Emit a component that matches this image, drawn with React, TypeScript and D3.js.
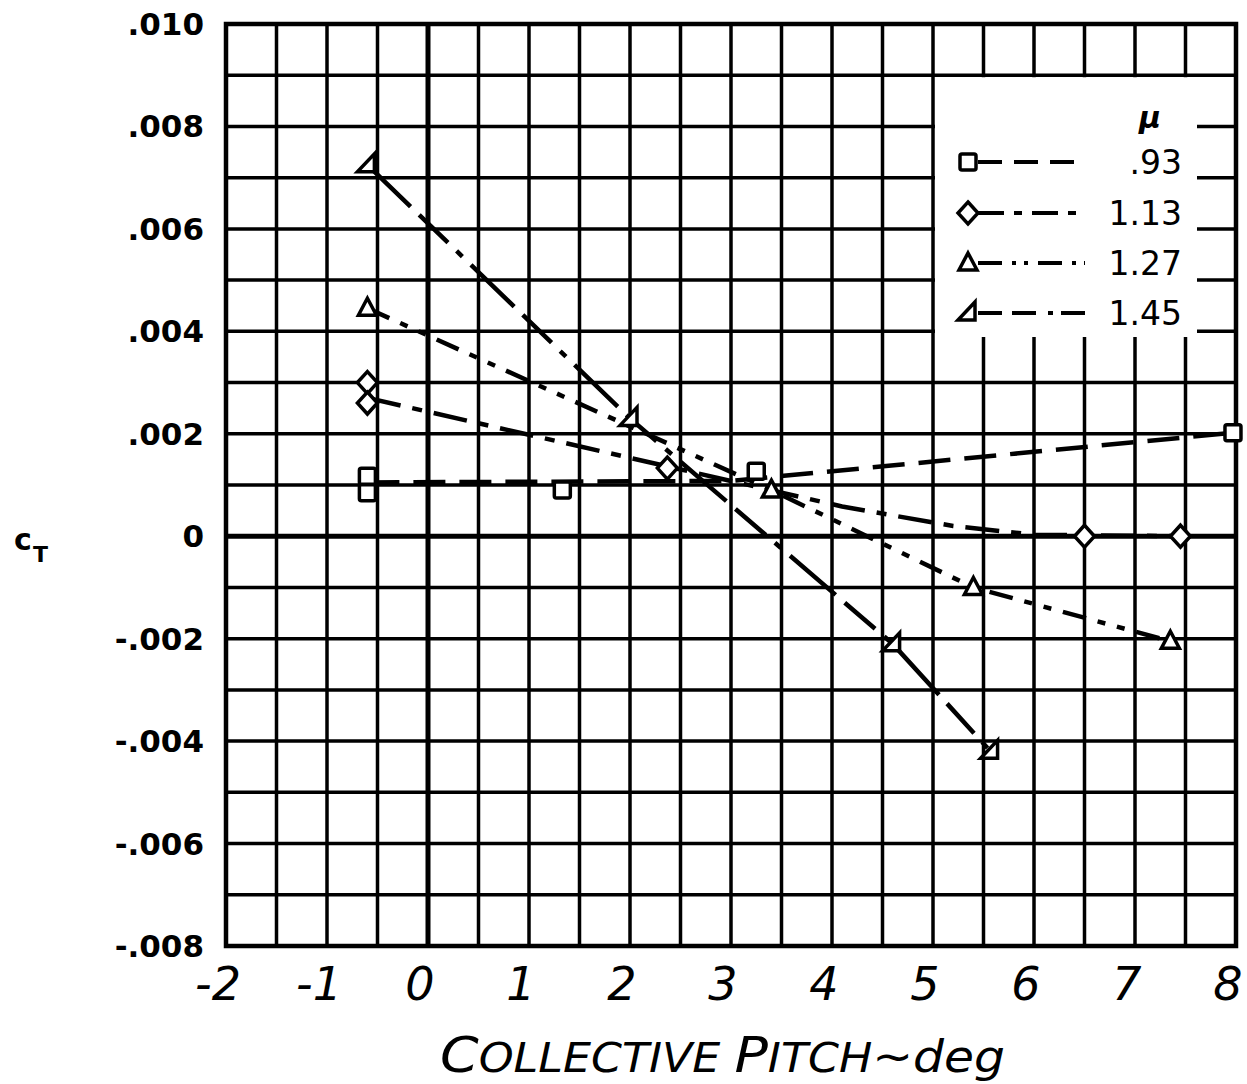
import * as React from "react";
import { line, range, scaleLinear } from "d3";

// tick values
const pitchTicks = [-2, -1, 0, 1, 2, 3, 4, 5, 6, 7, 8];
const ctTicks = [0.01, 0.008, 0.006, 0.004, 0.002, 0, -0.002, -0.004, -0.006, -0.008];
const ctTickLabels = [".010", ".008", ".006", ".004", ".002", "0", "-.002", "-.004", "-.006", "-.008"];

// mu = .93 (squares)
const pitch093 = [-0.6, -0.6, 1.33, 3.25, 7.97];
const ct093 = [0.00117, 0.00085, 0.0009, 0.00127, 0.00202];
const fairPitch093 = [-0.6, 3.0, 7.97];
const fairCt093 = [0.00105, 0.00108, 0.00202];

// mu = 1.13 (diamonds)
const pitch113 = [-0.6, -0.6, 2.37, 6.5, 7.45];
const ct113 = [0.003, 0.0026, 0.00133, 0, 0];
const fairPitch113 = [-0.6, 2.4, 4.1, 5.2, 6.0, 7.45];
const fairCt113 = [0.0027, 0.00135, 0.00058, 0.0002, 0.00003, 0];

// mu = 1.27 (triangles)
const pitch127 = [-0.6, 3.4, 5.4, 7.35];
const ct127 = [0.00445, 0.0009, -0.001, -0.00205];

// mu = 1.45 (flagged triangles)
const pitch145 = [-0.6, 2.0, 4.6, 5.57];
const ct145 = [0.00725, 0.0023, -0.0021, -0.0042];

const muLabels = [".93", "1.13", "1.27", "1.45"];
const symbols = ["square", "diamond", "triangle", "flag"];
const dashes = ["32 14", "34 12 10 12", "24 12 8 12 8 12", "60 12 40 12 8 12"];
const legendDashes = ["24 12", "26 10 8 10", "24 10 4 8 4 10", "24 10 24 12 5 8"];

const W = 1247;
const H = 1084;

const Marker = (props: { kind: string; cx: number; cy: number }) => {
  const { kind, cx, cy } = props;
  const style = { fill: "white", stroke: "black", strokeWidth: 3.5 };
  if (kind === "square") {
    return <rect x={cx - 8} y={cy - 8} width={16} height={16} rx={2} {...style} />;
  }
  if (kind === "diamond") {
    return <path d={`M${cx},${cy - 11}L${cx + 10},${cy}L${cx},${cy + 11}L${cx - 10},${cy}Z`} {...style} />;
  }
  if (kind === "triangle") {
    return <path d={`M${cx},${cy - 10}L${cx + 9},${cy + 7}L${cx - 9},${cy + 7}Z`} {...style} />;
  }
  return <path d={`M${cx + 7},${cy - 11}L${cx + 7},${cy + 7}L${cx - 10},${cy + 7}Z`} {...style} />;
};

export default function App() {
  const x = scaleLinear().domain([-2, 8]).range([226, 1236]);
  const y = scaleLinear().domain([-0.008, 0.01]).range([946, 24]);

  const gridX = range(-2, 8.001, 0.5);
  const gridY = range(-0.008, 0.01001, 0.001);

  const path = line<[number, number]>()
    .x((d) => x(d[0]))
    .y((d) => y(d[1]));

  const zip = (a: number[], b: number[]) => a.map((v, i) => [v, b[i]] as [number, number]);

  const series = [
    { px: pitch093, py: ct093, fx: fairPitch093, fy: fairCt093 },
    { px: pitch113, py: ct113, fx: fairPitch113, fy: fairCt113 },
    { px: pitch127, py: ct127, fx: pitch127, fy: ct127 },
    { px: pitch145, py: ct145, fx: pitch145, fy: ct145 },
  ];

  // legend box sits over the upper right grid cells
  const lgLeft = x(5) + 2;
  const lgRight = 1197;
  const lgTop = y(0.009) + 2;
  const lgBottom = 337;
  const rowY = [162, 213, 263, 313];

  return (
    <svg width={W} height={H} style={{ position: "absolute", left: 0, top: 0, background: "white" }}>
      <rect x={0} y={0} width={W} height={H} fill="white" />

      {/* grid */}
      {gridX.map((v) => (
        <line key={`gx${v}`} x1={x(v)} x2={x(v)} y1={y(0.01)} y2={y(-0.008)}
          stroke="black" strokeWidth={Math.abs(v) < 1e-9 ? 5 : 3.5} />
      ))}
      {gridY.map((v) => (
        <line key={`gy${v}`} x1={x(-2)} x2={x(8)} y1={y(v)} y2={y(v)}
          stroke="black" strokeWidth={Math.abs(v) < 1e-9 ? 5 : 3.5} />
      ))}
      <rect x={x(-2)} y={y(0.01)} width={x(8) - x(-2)} height={y(-0.008) - y(0.01)}
        fill="none" stroke="black" strokeWidth={4.5} />

      {/* legend */}
      <rect x={lgLeft} y={lgTop} width={lgRight - lgLeft} height={lgBottom - lgTop} fill="white" />
      <text x={1150} y={128} fontFamily="DejaVu Sans" fontStyle="italic" fontWeight="bold" fontSize={30}
        textAnchor="middle">μ</text>
      {muLabels.map((m, i) => (
        <g key={m}>
          <line x1={978} x2={1085} y1={rowY[i]} y2={rowY[i]} stroke="black" strokeWidth={4}
            strokeDasharray={legendDashes[i]} />
          <Marker kind={symbols[i]} cx={968} cy={rowY[i]} />
          <text x={1182} y={rowY[i] + 12} fontFamily="DejaVu Sans" fontSize={33} textAnchor="end">{m}</text>
        </g>
      ))}

      {/* curves */}
      {series.map((s, i) => (
        <path key={`l${i}`} d={path(zip(s.fx, s.fy)) || ""} fill="none" stroke="black"
          strokeWidth={4.5} strokeDasharray={dashes[i]} />
      ))}
      {series.map((s, i) =>
        s.px.map((p, j) => (
          <Marker key={`m${i}-${j}`} kind={symbols[i]} cx={x(p)} cy={y(s.py[j])} />
        ))
      )}

      {/* y axis labels */}
      {ctTicks.map((v, i) => (
        <text key={`yt${v}`} x={204} y={y(v) + 11} fontFamily="DejaVu Sans" fontWeight="bold"
          fontSize={31} textAnchor="end">{ctTickLabels[i]}</text>
      ))}
      <text x={14} y={550} fontFamily="DejaVu Sans" fontWeight="bold" fontSize={30}>c</text>
      <text x={33} y={562} fontFamily="DejaVu Sans" fontWeight="bold" fontSize={22}>T</text>

      {/* x axis labels */}
      {pitchTicks.map((v) => (
        <text key={`xt${v}`} x={x(v) - 8} y={1000} fontFamily="DejaVu Sans" fontStyle="italic"
          fontSize={46} textAnchor="middle">{v < 0 ? `-${-v}` : `${v}`}</text>
      ))}
      <text x={440} y={1072} fontFamily="DejaVu Sans" fontStyle="italic" textLength={565}
        lengthAdjust="spacingAndGlyphs">
        <tspan fontSize={50}>C</tspan>
        <tspan fontSize={40}>OLLECTIVE </tspan>
        <tspan fontSize={50}>P</tspan>
        <tspan fontSize={40}>ITCH</tspan>
        <tspan fontSize={44}>~deg</tspan>
      </text>
    </svg>
  );
}
